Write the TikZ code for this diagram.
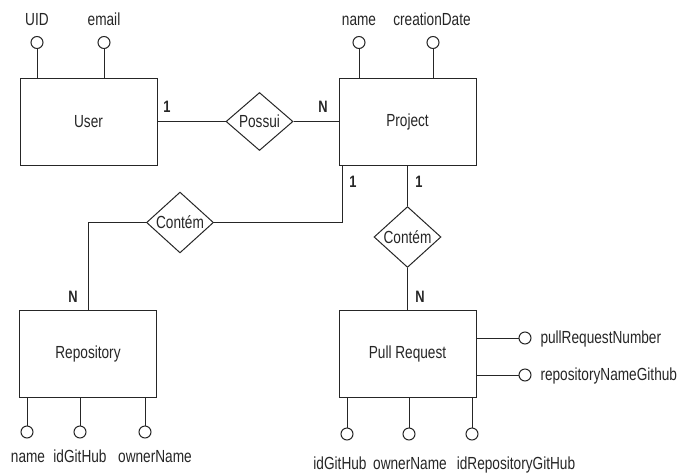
\documentclass[tikz,border=0pt]{standalone}
\usepackage{fontspec}
\setmainfont{Liberation Sans}[FakeStretch=0.78]
\usepackage{tikz}
\usetikzlibrary{shapes.geometric}

\begin{document}
\begin{tikzpicture}[x=1pt, y=-1pt, line width=1pt, color=black!85,
    every node/.style={font=\fontsize{17.5}{20}\selectfont},
    entity/.style={draw, minimum width=137pt, minimum height=87pt},
    relation/.style={draw, diamond, minimum width=67pt, minimum height=58pt, inner sep=0pt},
    attr/.style={draw, circle, fill=white, minimum size=12pt, inner sep=0pt},
    attrtxt/.style={anchor=base, inner sep=0pt},
    card/.style={anchor=base, inner sep=0pt, font=\fontsize{16.5}{20}\selectfont\bfseries}]
      \useasboundingbox (0,0) rectangle (691,472);

      \node[entity] (user) at (88.5,121.5) {User};
      \node[entity] (project) at (407.5,121.5) {Project};
      \node[entity] (repo) at (88,354) {Repository};
      \node[entity] (pr) at (407.5,354) {Pull Request};

      \node[relation] (possui) at (259.5,121.5) {Possui};
      \node[relation] (contemrepo) at (180,222.5) {Contém};
      \node[relation] (contempr) at (407.5,237) {Contém};

      \draw (user.east) -- (possui.west);
      \draw (possui.east) -- (project.west);
      \draw (contemrepo.east) -| ([xshift=4pt]project.south west);
      \draw (contemrepo.west) -| (repo.north);
      \draw (project.south) -- (contempr.north);
      \draw (contempr.south) -- (pr.north);

      \node[card] (c1user) at (167,112) {1};
      \node[card] (cnproject) at (323,112) {N};
      \node[card] (c1repo) at (353,187) {1};
      \node[card] (c1pr) at (419,187) {1};
      \node[card] (cnrepo) at (73,302) {N};
      \node[card] (cnpr) at (420,302) {N};

      \node[attr] (uid) at (37,42.5) {};
      \draw (uid) -- (uid |- user.north);
      \node[attrtxt] (uidtxt) at (37,25) {UID};
      \node[attr] (email) at (104,42.5) {};
      \draw (email) -- (email |- user.north);
      \node[attrtxt] (emailtxt) at (104,25) {email};

      \node[attr] (pname) at (359,42.5) {};
      \draw (pname) -- (pname |- project.north);
      \node[attrtxt] (pnametxt) at (359,25.5) {name};
      \node[attr] (pdate) at (433,42.5) {};
      \draw (pdate) -- (pdate |- project.north);
      \node[attrtxt] (pdatetxt) at (432,25.5) {creationDate};

      \node[attr] (rname) at (27,432) {};
      \draw (rname) -- (rname |- repo.south);
      \node[attrtxt] (rnametxt) at (28,462) {name};
      \node[attr] (rid) at (80,432) {};
      \draw (rid) -- (rid |- repo.south);
      \node[attrtxt] (ridtxt) at (80,462) {idGitHub};
      \node[attr] (rowner) at (145,432) {};
      \draw (rowner) -- (rowner |- repo.south);
      \node[attrtxt] (rownertxt) at (155,462) {ownerName};

      \node[attr] (prid) at (347,434) {};
      \draw (prid) -- (prid |- pr.south);
      \node[attrtxt] (pridtxt) at (340,469) {idGitHub};
      \node[attr] (prowner) at (409,434) {};
      \draw (prowner) -- (prowner |- pr.south);
      \node[attrtxt] (prownertxt) at (410,469) {ownerName};
      \node[attr] (prrepo) at (472,434) {};
      \draw (prrepo) -- (prrepo |- pr.south);
      \node[attrtxt] (prrepotxt) at (516,469) {idRepositoryGitHub};

      \node[attr] (prnum) at (525,338) {};
      \draw (prnum) -- (prnum -| pr.east);
      \node[attrtxt, anchor=base west] (prnumtxt) at (540,343) {pullRequestNumber};
      \node[attr] (prrepname) at (525,375) {};
      \draw (prrepname) -- (prrepname -| pr.east);
      \node[attrtxt, anchor=base west] (prrepnametxt) at (540,380) {repositoryNameGithub};
    \end{tikzpicture}
\end{document}
